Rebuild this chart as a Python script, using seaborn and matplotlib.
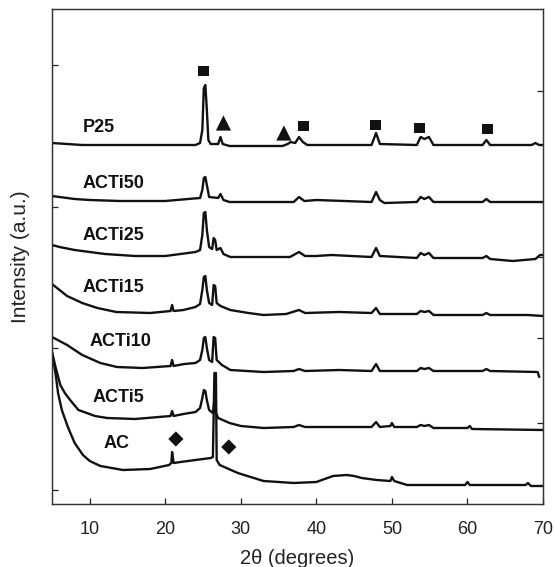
import matplotlib
matplotlib.use("Agg")
import matplotlib.pyplot as plt
import seaborn as sns
import pandas as pd

# ---------------- data (2theta in degrees, intensity in a.u.) ----------------
p25_theta = [5, 7, 9, 24, 24.6, 24.9, 25.1, 25.3, 25.5, 25.7, 26.0, 27.0, 27.3, 27.6, 28.5, 35.5, 36.2,
             36.6, 37.2, 37.7, 38.2, 38.8, 47.3, 47.9, 48.4, 53.3, 53.8, 54.3, 54.9, 55.5, 62.0, 62.5,
             63.0, 68.5, 69.0, 69.5, 70]
p25_int = [361, 360, 359, 359, 361, 374, 416, 419, 394, 364, 360, 360, 367, 360, 358, 358, 360,
           362, 361, 367, 362, 359, 359, 371, 360, 359, 367, 365, 367, 359, 359, 364,
           359, 359, 361, 359, 359]

acti50_theta = [5, 6, 8, 10, 14, 20, 23, 24.6, 24.9, 25.1, 25.3, 25.5, 25.8, 27.0, 27.3, 27.7, 28.5,
                37.0, 37.7, 38.4, 40, 47.3, 47.9, 48.4, 49, 53.3, 53.8, 54.3, 54.9, 55.5, 62.0,
                62.5, 63, 70]
acti50_int = [308, 307, 305, 304, 303, 303, 305, 306, 314, 326, 327, 319, 307, 306, 310, 304, 302,
              302, 307, 303, 304, 302, 312, 304, 301, 302, 307, 305, 307, 302, 302,
              305, 302, 302]

acti25_theta = [5, 6, 8, 10, 12, 16, 20, 22, 24.0, 24.6, 24.9, 25.1, 25.3, 25.5, 25.8, 26.2, 26.4,
                26.6, 26.8, 27.3, 27.7, 28.6, 36.5, 37.7, 38.5, 40, 42, 47.3, 47.9, 48.4, 53.3,
                53.8, 54.3, 54.9, 55.5, 62.0, 62.5, 63, 66, 69, 69.6, 70]
acti25_int = [259, 257, 254, 252, 250, 248, 248, 250, 252, 254, 269, 291, 292, 274, 257, 255, 266,
              264, 254, 256, 250, 247, 247, 252, 248, 248, 249, 247, 256, 248, 246,
              251, 249, 251, 246, 246, 248, 245, 243, 245, 249, 249]

acti15_theta = [5, 6, 7, 9, 11, 13.5, 18, 20.7, 20.9, 21.1, 22.4, 24.0, 24.6, 24.9, 25.1, 25.3, 25.5,
                25.8, 26.2, 26.4, 26.6, 26.8, 27.3, 28.6, 31, 33, 36, 37.7, 38.5, 43, 47.3, 47.9,
                48.4, 53.3, 53.8, 54.3, 54.9, 55.5, 62.0, 62.5, 63, 68, 70]
acti15_int = [220, 214, 208, 201, 196, 192, 191, 193, 199, 193, 194, 197, 200, 214, 227, 228, 214,
              201, 199, 219, 218, 201, 198, 194, 191, 189, 190, 194, 191, 192, 191, 196,
              190, 190, 193, 192, 193, 189, 189, 191, 189, 189, 188]

acti10_theta = [5, 7, 9, 11.4, 13.6, 17, 20.7, 20.9, 21.1, 22.5, 24.0, 24.6, 24.9, 25.1, 25.3, 25.5,
                25.8, 26.2, 26.4, 26.6, 26.8, 27.5, 28.6, 33, 37, 37.7, 38.5, 43, 47.3, 47.9, 48.4,
                53.3, 53.8, 54.3, 54.9, 55.5, 62, 62.5, 63, 69.3, 69.5]
acti10_int = [167, 159, 149, 141, 137, 136, 138, 144, 138, 140, 141, 144, 154, 166, 167, 156,
              144, 142, 167, 166, 144, 139, 134, 132, 133, 135, 133, 134, 133, 140, 133,
              133, 136, 135, 136, 133, 133, 135, 133, 132, 127]

acti5_theta = [5, 5.5, 6.1, 6.7, 7.4, 8.5, 10.7, 12.3, 16, 20.7, 20.9, 21.1, 22.4, 24.0, 24.6, 24.9,
               25.1, 25.3, 25.5, 25.8, 26.3, 26.5, 26.7, 27, 28.5, 30, 33, 37, 37.7, 38.5, 47.3,
               47.9, 48.4, 49.8, 50, 50.3, 53.3, 53.8, 54.3, 54.9, 55.5, 60, 60.3, 60.6, 70]
acti5_int = [152, 136, 119, 111, 104, 94, 88, 86, 85, 88, 93, 88, 90, 92, 96, 106,
             114, 113, 104, 94, 91, 104, 91, 86, 81, 78, 76, 77, 79, 77, 77,
             82, 77, 78, 81, 77, 77, 79, 78, 79, 76, 76, 78, 75, 74]

ac_theta = [5, 5.5, 5.8, 6.3, 7.1, 8, 9.1, 10, 11.4, 14.4, 18, 20.5, 20.8, 20.9, 21.1, 22, 24, 26.0,
            26.3, 26.5, 26.7, 26.8, 27.2, 29.6, 33, 37, 40, 42.2, 44, 45, 46, 48, 49.8, 50, 50.3,
            52, 59.7, 60, 60.3, 67.7, 68, 68.4, 70]
ac_int = [152, 129, 111, 94, 77, 61, 49, 43, 38, 34, 35, 39, 41, 52, 41, 42, 44, 46,
          47, 131, 131, 44, 39, 31, 23, 21, 22, 28, 29, 28, 26, 24, 23, 27, 23,
          19, 19, 22, 19, 19, 21, 18, 18]

samples = ["P25", "ACTi50", "ACTi25", "ACTi15", "ACTi10", "ACTi5", "AC"]
label_theta = [9.1, 9.1, 9.1, 9.1, 10.0, 10.4, 11.8]
label_int = [377, 321, 268, 217, 162, 107, 60]

# phase markers: anatase (square), rutile (triangle), graphite (diamond)
marker_phase = ["anatase"] * 5 + ["rutile"] * 2 + ["graphite"] * 2
marker_theta = [25.05, 38.3, 47.8, 53.7, 62.6, 27.7, 35.7, 21.4, 28.4]
marker_int = [433, 378, 379, 376, 375, 381, 371, 65, 57]

left_ticks = [439, 297, 156, 14]
right_ticks = [413, 247, 166, 81]
x_ticks = [10, 20, 30, 40, 50, 60, 70]

# ---------------- build long table ----------------
series = {
    "P25": (p25_theta, p25_int),
    "ACTi50": (acti50_theta, acti50_int),
    "ACTi25": (acti25_theta, acti25_int),
    "ACTi15": (acti15_theta, acti15_int),
    "ACTi10": (acti10_theta, acti10_int),
    "ACTi5": (acti5_theta, acti5_int),
    "AC": (ac_theta, ac_int),
}
rows = []
for name, (tx, iy) in series.items():
    for t, v in zip(tx, iy):
        rows.append({"sample": name, "theta": t, "intensity": v})
df = pd.DataFrame(rows)
mk = pd.DataFrame({"phase": marker_phase, "theta": marker_theta, "intensity": marker_int})

# ---------------- plot ----------------
sns.set_style("ticks")
plt.rcParams["font.family"] = ["Liberation Sans", "DejaVu Sans"]

fig = plt.figure(figsize=(5.55, 5.67), dpi=100)
ax = fig.add_axes([52 / 555, 1 - 504 / 567, (543 - 52) / 555, (504 - 9) / 567])

sns.lineplot(data=df, x="theta", y="intensity", hue="sample", units="sample",
             palette={s: "#111111" for s in samples}, estimator=None, sort=False,
             legend=False, lw=1.7, ax=ax)

sns.scatterplot(data=mk, x="theta", y="intensity", style="phase",
                markers={"anatase": "s", "rutile": "^", "graphite": "D"},
                size="phase", sizes={"anatase": 62, "rutile": 120, "graphite": 60},
                color="#111111", edgecolor="none", legend=False, ax=ax)

for name, tx, iy in zip(samples, label_theta, label_int):
    ax.text(tx, iy, name, fontsize=13, fontweight="bold", va="center", ha="left",
            color="#111111")

ax.set_xlim(5, 70)
ax.set_ylim(0, 495)
ax.set_xticks(x_ticks)
ax.set_yticks(left_ticks)
ax.set_yticklabels([])
ax.tick_params(axis="x", direction="in", length=4, width=0.9, labelsize=13,
               colors="#222222", pad=12)
ax.tick_params(axis="y", direction="in", length=4, width=0.9, colors="#222222")
ax.set_xlabel("2θ (degrees)", fontsize=14.5, color="#222222", labelpad=8)
ax.set_ylabel("Intensity (a.u.)", fontsize=15, color="#222222", labelpad=12)

ax2 = ax.twinx()
ax2.set_ylim(0, 495)
ax2.set_yticks(right_ticks)
ax2.set_yticklabels([])
ax2.tick_params(axis="y", direction="in", length=4, width=0.9, colors="#222222")

for a in (ax, ax2):
    for sp in a.spines.values():
        sp.set_visible(True)
        sp.set_linewidth(0.9)
        sp.set_color("#333333")

fig.savefig("out.png", dpi=100)
